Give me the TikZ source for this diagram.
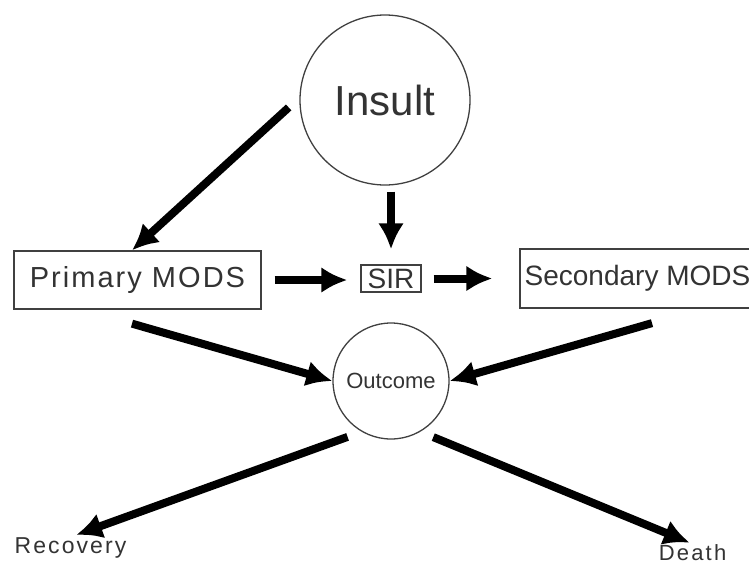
\documentclass[tikz,border=0pt]{standalone}
\usepackage{fontspec}
\setmainfont{Liberation Sans}
\usetikzlibrary{arrows.meta}

\begin{document}
\begin{tikzpicture}[x=1pt, y=-1pt,
  bubble/.style={circle, draw=black!75, line width=1.3pt, text=black!80, inner sep=0pt},
  modsbox/.style={rectangle, draw=black!75, line width=1.3pt, text=black!80, inner sep=0pt},
  tag/.style={text=black!80, inner sep=0pt, anchor=base},
  fat/.style={line width=8pt, -{Latex[length=26pt, width=26pt]}}]

\useasboundingbox (0,0) rectangle (749,565);

%Nodes
\node (ins) at (385,100) [bubble, minimum size=170pt, font=\fontsize{42}{48}\selectfont] {Insult};
\node (pri) at (137.5,280) [modsbox, minimum width=247pt, minimum height=58pt,
  font=\fontsize{29}{34}\selectfont\addfontfeature{LetterSpace=7}] {Primary MODS};
\node (sir) at (391,278.5) [modsbox, minimum width=60pt, minimum height=27pt,
  font=\fontsize{28}{32}\selectfont] {SIR};
\node (sec) at (637.5,278.5) [modsbox, minimum width=235pt, minimum height=59pt,
  font=\fontsize{28}{32}\selectfont] {Secondary MODS};
\node (out) at (391,381) [bubble, minimum size=116pt, font=\fontsize{22}{26}\selectfont] {Outcome};

\node (rec) at (70.5,553) [tag, font=\fontsize{23}{28}\selectfont\addfontfeature{LetterSpace=9}] {Recovery};
\node (dea) at (692.5,560) [tag, font=\fontsize{22}{26}\selectfont\addfontfeature{LetterSpace=10}] {Death};

%Arrows
\draw[fat] ([xshift=-11pt]ins.185) to ([xshift=-5.5pt]pri.north);
\draw[fat, shorten <=6pt, shorten >=15pt] (ins.south -| sir.north) to (sir.north);

\draw[fat, shorten <=13pt, shorten >=13pt] (pri.east) to (pri.east -| sir.west);
\draw[fat, shorten <=12pt, shorten >=27pt] (sir.east) to (sir.east -| sec.west);

\draw[fat] ([shift={(-5.5,14)}]pri.south) to (out.west);
\draw[fat] ([shift={(14.5,14.5)}]sec.south) to (out.east);

\draw[fat, shorten <=15pt, shorten >=6pt] (out.240) to (rec.north);
\draw[fat, shorten <=14pt, shorten >=3pt] (out.300) to (dea.north);

\end{tikzpicture}
\end{document}
